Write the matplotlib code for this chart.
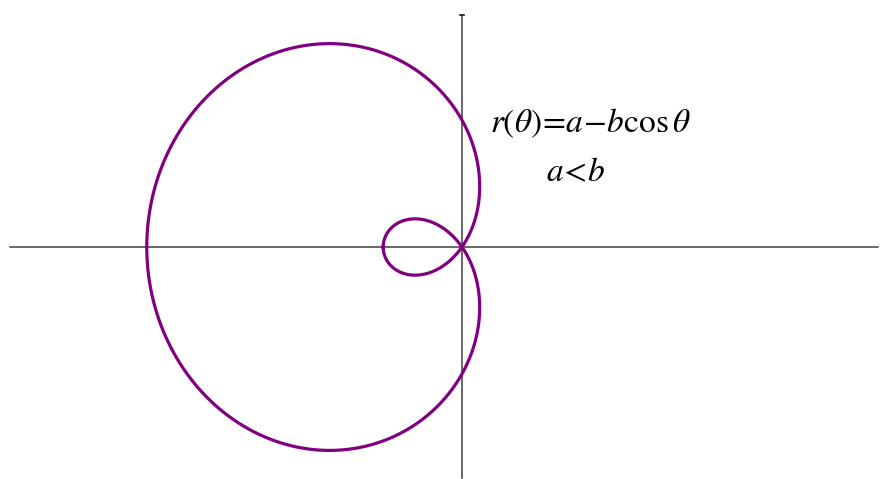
import numpy as np
import matplotlib
matplotlib.use("Agg")
import matplotlib.pyplot as plt

plt.rcParams['mathtext.fontset'] = 'stix'

# limacon r = a - b cos(theta), with a < b
a = 1.2
b = 2.0
theta = np.linspace(0, 2 * np.pi, 1000)
r = a - b * np.cos(theta)
x = r * np.cos(theta)
y = r * np.sin(theta)

fig = plt.figure(figsize=(8.8, 4.79), dpi=100)
ax = fig.add_axes([0, 0, 1, 1])
ax.set_xlim(-4.69, 4.244)
ax.set_ylim(-2.193, 2.335)
ax.axis('off')

# axes lines
ax.plot([-4.59, 4.22], [0, 0], color='#404040', lw=1.1)
ax.plot([0, 0], [-2.183, 2.19], color='#404040', lw=1.1)
ax.plot([-0.025, 0.025], [2.19, 2.19], color='#202020', lw=1.2)

ax.plot(x, y, color='#800080', lw=2.3)

fig.text(0.557, 0.743, r'$r(\theta)\!=\!a\!-\!b\cos\theta$', fontsize=24,
         ha='left', va='center')
fig.text(0.621, 0.641, r'$a\!<\!b$', fontsize=24, ha='left', va='center')

fig.savefig('out.png', dpi=100)
